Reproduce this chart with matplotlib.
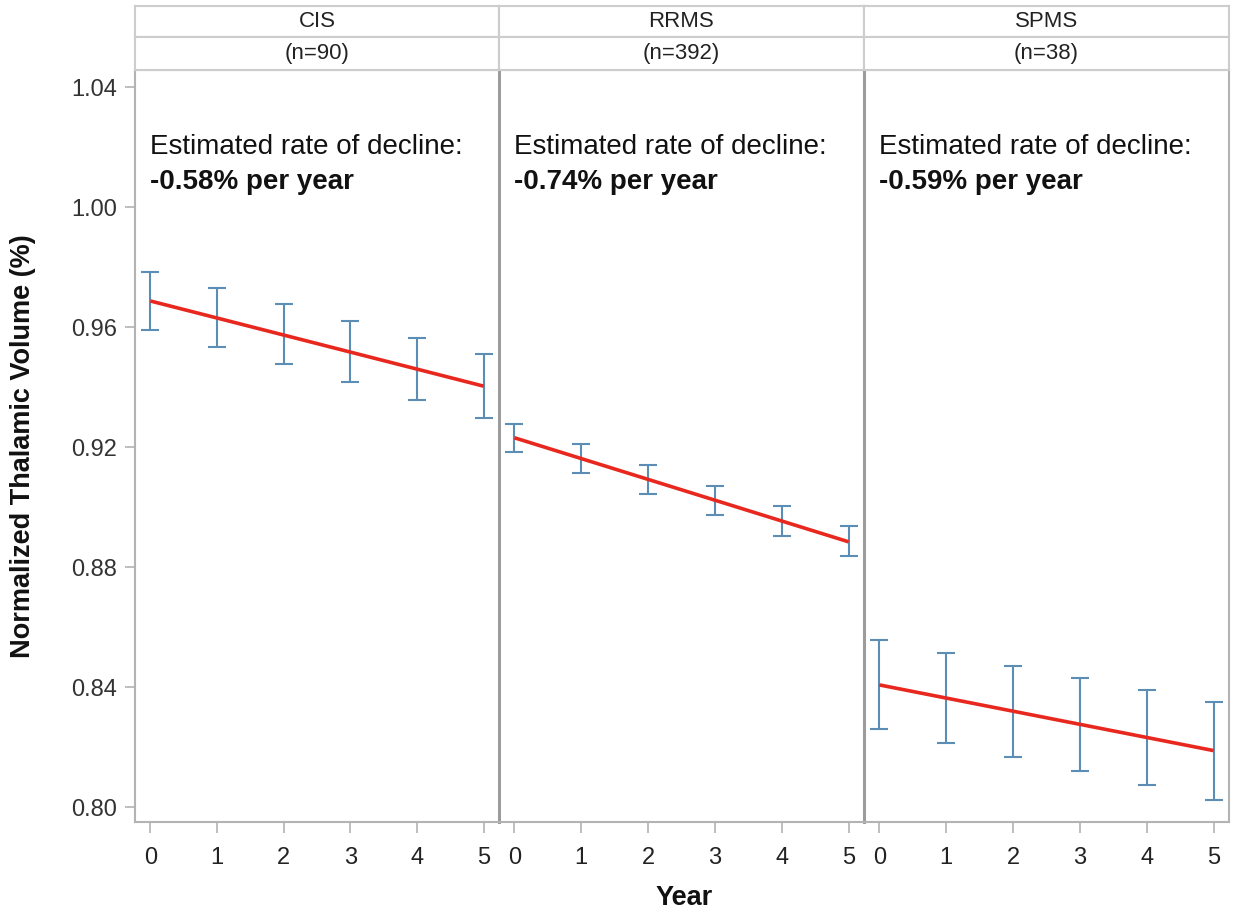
import matplotlib
matplotlib.use("Agg")
import matplotlib.pyplot as plt

plt.rcParams['font.family'] = ['Liberation Sans', 'DejaVu Sans']

groups = ["CIS", "RRMS", "SPMS"]
n_labels = ["(n=90)", "(n=392)", "(n=38)"]
years = [0, 1, 2, 3, 4, 5]
rates = ["-0.58% per year", "-0.74% per year", "-0.59% per year"]

# top and bottom of each error bar
cis_upper = [0.9784, 0.9729, 0.9676, 0.9620, 0.9563, 0.9511]
cis_lower = [0.9591, 0.9533, 0.9476, 0.9416, 0.9357, 0.9298]
rrms_upper = [0.9277, 0.9209, 0.9141, 0.9070, 0.9003, 0.8936]
rrms_lower = [0.9184, 0.9113, 0.9043, 0.8973, 0.8904, 0.8836]
spms_upper = [0.8556, 0.8513, 0.8471, 0.8431, 0.8390, 0.8351]
spms_lower = [0.8260, 0.8212, 0.8167, 0.8120, 0.8072, 0.8022]

# fitted line at first and last year
fit_start = [0.9687, 0.9231, 0.8407]
fit_end = [0.9403, 0.8884, 0.8188]

yticks = [0.80, 0.84, 0.88, 0.92, 0.96, 1.00, 1.04]

uppers = [cis_upper, rrms_upper, spms_upper]
lowers = [cis_lower, rrms_lower, spms_lower]

bar_color = '#5b8db5'
line_color = '#e8281e'
frame_color = '#b3b3b3'
sep_color = '#9c9c9c'
head_color = '#cdcdcd'

fig = plt.figure(figsize=(12.35, 9.16), dpi=100)

W, H = 1235.0, 916.0
edges = [135, 499, 864, 1229]
plot_top, plot_bottom = 70, 822
head_top, head_mid = 6, 37

for i in range(3):
    x0 = edges[i] / W
    w = (edges[i + 1] - edges[i]) / W
    ax = fig.add_axes([x0, 1 - plot_bottom / H, w, (plot_bottom - plot_top) / H])

    up, lo = uppers[i], lowers[i]
    mid = [(a + b) / 2 for a, b in zip(up, lo)]
    err = [(a - b) / 2 for a, b in zip(up, lo)]
    ax.errorbar(years, mid, yerr=err, fmt='none', ecolor=bar_color,
                elinewidth=1.5, capsize=6.5, capthick=1.5, zorder=2)
    ax.plot([years[0], years[-1]], [fit_start[i], fit_end[i]], color=line_color,
            lw=2.6, zorder=3, solid_capstyle='butt')

    ax.set_xlim(-0.23, 5.23)
    ax.set_ylim(0.7950, 1.0457)
    ax.set_xticks(years)
    ax.set_yticks(yticks)
    ax.set_yticklabels(['{:.2f}'.format(v) for v in yticks])
    ax.tick_params(axis='x', length=8, width=1.2, color=frame_color, pad=10,
                   labelsize=17, labelcolor='#222222')
    ax.tick_params(axis='y', length=7, width=1.2, color=frame_color, pad=6,
                   labelsize=17, labelcolor='#333333')
    if i > 0:
        ax.tick_params(axis='y', left=False, labelleft=False)

    for s in ax.spines.values():
        s.set_color(frame_color)
        s.set_linewidth(1.5)
    if i > 0:
        ax.spines['left'].set_color(sep_color)
        ax.spines['left'].set_linewidth(2.2)
    if i < 2:
        ax.spines['right'].set_visible(False)

    ax.text(0.04, 0.898, "Estimated rate of decline:", transform=ax.transAxes,
            fontsize=20, color='#111111', va='center', ha='left')
    ax.text(0.04, 0.851, rates[i], transform=ax.transAxes,
            fontsize=20, fontweight='bold', color='#111111', va='center', ha='left')

    # header strips
    for top, bot, label in [(head_top, head_mid, groups[i]),
                            (head_mid, plot_top, n_labels[i])]:
        hax = fig.add_axes([x0, 1 - bot / H, w, (bot - top) / H])
        hax.set_xticks([])
        hax.set_yticks([])
        for s in hax.spines.values():
            s.set_color(head_color)
            s.set_linewidth(1.5)
        hax.text(0.5, 0.5, label, transform=hax.transAxes, ha='center',
                 va='center', fontsize=16, color='#222222')

fig.text(23 / W, 1 - 446 / H, "Normalized Thalamic Volume (%)", rotation=90,
         ha='center', va='center', fontsize=19.5, fontweight='bold', color='#111111')
fig.text(684 / W, 1 - 898 / H, "Year", ha='center', va='center',
         fontsize=19.5, fontweight='bold', color='#111111')

fig.savefig("out.png", dpi=100)
